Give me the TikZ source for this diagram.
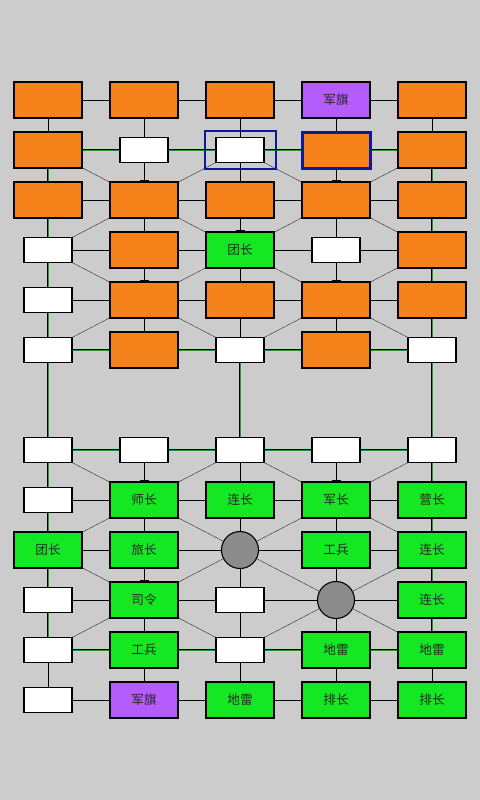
\documentclass[tikz,border=0pt]{standalone}
\usepackage{fontspec}
\newfontfamily\cjk{Noto Sans CJK SC}
\usetikzlibrary{arrows.meta,backgrounds}

\definecolor{boardgray}{RGB}{204,204,204}
\definecolor{foeorange}{RGB}{246,130,28}
\definecolor{owngreen}{RGB}{20,232,34}
\definecolor{flagpurple}{RGB}{180,92,252}
\definecolor{holegray}{RGB}{140,140,140}
\definecolor{railgreen}{RGB}{40,150,40}
\definecolor{pickblue}{RGB}{16,24,150}

\begin{document}
\begin{tikzpicture}[x=0.5mm, y=-0.5mm, line width=0.55mm,
    piece/.style = {draw, minimum width=34mm, minimum height=18mm, inner sep=0pt,
                    font=\cjk\fontsize{18}{21}\selectfont, text=black!85},
    foe/.style = {piece, fill=foeorange},
    own/.style = {piece, fill=owngreen},
    flag/.style = {piece, fill=flagpurple},
    empty/.style = {draw, fill=white, minimum width=24mm, minimum height=12.5mm, inner sep=0pt},
    hole/.style = {circle, draw, fill=holegray, minimum size=18.5mm, inner sep=0pt},
    rail/.style = {double=railgreen, double distance=0.5mm},
    intick/.style = {-{Bar[width=4.5mm, line width=0.8mm]}},
    picked/.style = {draw=pickblue, line width=1.5mm},
    pickframe/.style = {draw=pickblue, line width=1mm, minimum width=35.5mm, minimum height=19mm, inner sep=0pt}]

    % enemy half
    \node[foe] (A1) at (48,100) {};
    \node[foe] (A2) at (144,100) {};
    \node[foe] (A3) at (240,100) {};
    \node[flag] (A4) at (336,100) {军旗};
    \node[foe] (A5) at (432,100) {};

    \node[foe] (B1) at (48,150) {};
    \node[empty] (B2) at (144,150) {};
    \node[empty] (B3) at (240,150) {};
    \node[foe,picked] (B4) at (336,150) {};
    \node[foe] (B5) at (432,150) {};

    \node[foe] (C1) at (48,200) {};
    \node[foe] (C2) at (144,200) {};
    \node[foe] (C3) at (240,200) {};
    \node[foe] (C4) at (336,200) {};
    \node[foe] (C5) at (432,200) {};

    \node[empty] (D1) at (48,250) {};
    \node[foe] (D2) at (144,250) {};
    \node[own] (D3) at (240,250) {团长};
    \node[empty] (D4) at (336,250) {};
    \node[foe] (D5) at (432,250) {};

    \node[empty] (E1) at (48,300) {};
    \node[foe] (E2) at (144,300) {};
    \node[foe] (E3) at (240,300) {};
    \node[foe] (E4) at (336,300) {};
    \node[foe] (E5) at (432,300) {};

    \node[empty] (F1) at (48,350) {};
    \node[foe] (F2) at (144,350) {};
    \node[empty] (F3) at (240,350) {};
    \node[foe] (F4) at (336,350) {};
    \node[empty] (F5) at (432,350) {};

    % own half
    \node[empty] (G1) at (48,450) {};
    \node[empty] (G2) at (144,450) {};
    \node[empty] (G3) at (240,450) {};
    \node[empty] (G4) at (336,450) {};
    \node[empty] (G5) at (432,450) {};

    \node[empty] (H1) at (48,500) {};
    \node[own] (H2) at (144,500) {师长};
    \node[own] (H3) at (240,500) {连长};
    \node[own] (H4) at (336,500) {军长};
    \node[own] (H5) at (432,500) {营长};

    \node[own] (I1) at (48,550) {团长};
    \node[own] (I2) at (144,550) {旅长};
    \node[hole] (I3) at (240,550) {};
    \node[own] (I4) at (336,550) {工兵};
    \node[own] (I5) at (432,550) {连长};

    \node[empty] (J1) at (48,600) {};
    \node[own] (J2) at (144,600) {司令};
    \node[empty] (J3) at (240,600) {};
    \node[hole] (J4) at (336,600) {};
    \node[own] (J5) at (432,600) {连长};

    \node[empty] (K1) at (48,650) {};
    \node[own] (K2) at (144,650) {工兵};
    \node[empty] (K3) at (240,650) {};
    \node[own] (K4) at (336,650) {地雷};
    \node[own] (K5) at (432,650) {地雷};

    \node[empty] (L1) at (48,700) {};
    \node[flag] (L2) at (144,700) {军旗};
    \node[own] (L3) at (240,700) {地雷};
    \node[own] (L4) at (336,700) {排长};
    \node[own] (L5) at (432,700) {排长};

    \node[pickframe] (pick) at (B3) {};

    \begin{pgfonlayer}{background}
    \fill[boardgray] (0,0) rectangle (480,800);

    % roads
    \draw (A1) -- (A2) -- (A3) -- (A4) -- (A5);
    \draw (C1) -- (C2) -- (C3) -- (C4) -- (C5);
    \draw (D1) -- (D2) -- (D3) -- (D4) -- (D5);
    \draw (E1) -- (E2) -- (E3) -- (E4) -- (E5);
    \draw (A1) -- (B1) (A5) -- (B5);
    \draw (A2) -- (B2) (C2) -- (D2) (E2) -- (F2);
    \draw (A3) -- (B3) -- (C3) (D3) -- (E3) -- (F3);
    \draw (A4) -- (B4) (C4) -- (D4) (E4) -- (F4);
    \draw[intick] (B2) -- (C2);
    \draw[intick] (D2) -- (E2);
    \draw[intick] (C3) -- (D3);
    \draw[intick] (B4) -- (C4);
    \draw[intick] (D4) -- (E4);
    \draw (C2) -- (B1) (C2) -- (B3) (C2) -- (D1) (C2) -- (D3);
    \draw (C4) -- (B3) (C4) -- (B5) (C4) -- (D3) (C4) -- (D5);
    \draw (D3) -- (E2) (D3) -- (E4);
    \draw (E2) -- (D1) (E2) -- (F1) (E2) -- (F3);
    \draw (E4) -- (D5) (E4) -- (F3) (E4) -- (F5);

    \draw (H1) -- (H2) -- (H3) -- (H4) -- (H5);
    \draw (I1) -- (I2) -- (I3) -- (I4) -- (I5);
    \draw (J1) -- (J2) -- (J3) -- (J4) -- (J5);
    \draw (L1) -- (L2) -- (L3) -- (L4) -- (L5);
    \draw (K1) -- (L1) (K5) -- (L5);
    \draw (H2) -- (I2) (J2) -- (K2) -- (L2);
    \draw (G3) -- (H3) -- (I3) -- (J3) -- (K3) -- (L3);
    \draw (H4) -- (I4) -- (J4) -- (K4) -- (L4);
    \draw[intick] (G2) -- (H2);
    \draw[intick] (I2) -- (J2);
    \draw[intick] (G4) -- (H4);
    \draw (H2) -- (G1) (H2) -- (G3) (H2) -- (I1) (H2) -- (I3);
    \draw (H4) -- (G3) (H4) -- (G5) (H4) -- (I3) (H4) -- (I5);
    \draw (I3) -- (J2) (I3) -- (J4);
    \draw (J2) -- (I1) (J2) -- (K1) (J2) -- (K3);
    \draw (J4) -- (I5) (J4) -- (K3) (J4) -- (K5);

    % railways
    \draw[rail] (B1) -- (B2) -- (B3) -- (B4) -- (B5);
    \draw[rail] (F1) -- (F2) -- (F3) -- (F4) -- (F5);
    \draw[rail] (G1) -- (G2) -- (G3) -- (G4) -- (G5);
    \draw[rail] (K1) -- (K2) -- (K3) -- (K4) -- (K5);
    \draw[rail] (B1) -- (C1) -- (D1) -- (E1) -- (F1) -- (G1) -- (H1) -- (I1) -- (J1) -- (K1);
    \draw[rail] (B5) -- (C5) -- (D5) -- (E5) -- (F5) -- (G5) -- (H5) -- (I5) -- (J5) -- (K5);
    \draw[rail] (F3) -- (G3);
    \end{pgfonlayer}
\end{tikzpicture}
\end{document}
